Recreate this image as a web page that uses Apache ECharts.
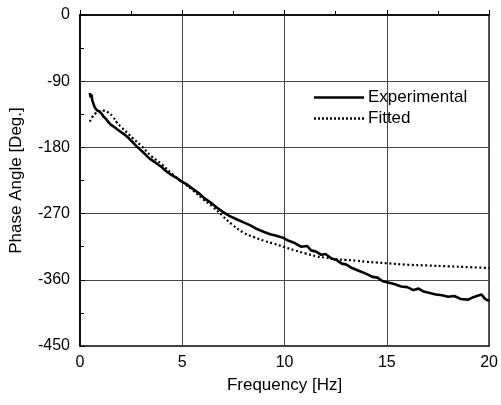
<!DOCTYPE html>
<html><head><meta charset="utf-8">
<script src="https://cdn.jsdelivr.net/npm/echarts@6/dist/echarts.min.js"></script>
<style>html,body{margin:0;padding:0;background:#fff}#c{width:501px;height:405px}</style>
</head><body><div id="c"></div>
<script>
const xTicks = [0, 5, 10, 15, 20];
const yTicks = [0, -90, -180, -270, -360, -450];
const expFreq = [0.48,0.52,0.56,0.6,0.65,0.7,0.75,0.85,0.95,1.05,1.15,1.29,1.4,1.5,1.61,1.8,2.0,2.2,2.4,2.58,2.75,2.9,3.1,3.39,3.6,3.8,4.0,4.2,4.45,4.7,4.94,5.2,5.5,5.8,6.07,6.39,6.7,7.0,7.3,7.68,8.0,8.33,8.65,9.0,9.3,9.6,9.94,10.2,10.5,10.8,11.1,11.3,11.56,11.8,12.0,12.3,12.53,12.8,13.0,13.3,13.66,14.0,14.3,14.54,14.8,15.11,15.4,15.7,16.0,16.3,16.56,16.8,17.1,17.4,17.7,18.0,18.3,18.6,18.98,19.2,19.4,19.63,19.8,20.0];
const expPhase = [-106,-112,-108,-116,-120,-124,-127,-130,-131,-134,-138,-142,-146,-149,-151,-155,-159,-163,-168,-173,-178,-182,-187,-195,-199,-203,-207,-212,-217,-221,-226,-230,-236,-242,-249,-255,-262,-268,-273,-278,-282,-286,-291,-295,-298,-300,-303,-307,-310,-315,-314,-320,-322,-326,-325,-331,-333,-338,-339,-344,-348,-352,-356,-357,-362,-364,-366,-369,-370,-374,-372,-376,-378,-380,-381,-383,-382,-386,-387,-384,-382,-380,-386,-389];
const fitFreq = [0.48,0.6,0.75,0.95,1.2,1.4,1.6,1.8,2.0,2.3,2.6,3.0,3.5,4.0,4.5,5.0,5.5,6.0,6.5,7.0,7.44,8.0,8.5,9.0,9.5,9.94,10.5,11.0,11.56,12.0,12.5,13.0,13.5,14.0,14.5,15.0,16.0,17.0,18.0,19.0,20.0];
const fitPhase = [-145,-139,-134,-131,-130,-133,-138,-146,-152,-160,-168,-178,-192,-203,-216,-227,-238,-250,-261,-274,-285,-296,-302,-307,-311,-315,-320,-324,-328,-330,-332,-333,-334,-335.5,-336.5,-337.5,-339.5,-340.5,-341.7,-342.8,-344];

const FONT = '"Liberation Sans", Arial, Helvetica, sans-serif';
let dots = '';
for (let k = 0; k < 13; k++) dots += 'M' + (k * 4) + ',0h2v2.5h-2z';
const chart = echarts.init(document.getElementById('c'), null, {renderer: 'canvas'});
chart.setOption({
  animation: false,
  backgroundColor: '#fff',
  textStyle: {fontFamily: FONT, color: '#000'},
  grid: {left: 78, right: 10, top: 15, bottom: 59, show: true, borderColor: '#000', borderWidth: 1.5, backgroundColor: 'transparent'},
  legend: {
    orient: 'vertical', left: 309, top: 84, itemWidth: 50, itemHeight: 14, itemGap: 4,
    textStyle: {fontFamily: FONT, fontSize: 17, color: '#000', padding: [0,0,0,-1]},
    data: [{name: 'Experimental', icon: 'path://M0,0 L52,0 L52,2.5 L0,2.5 Z', itemStyle:{color:'#000'}},
           {name: 'Fitted', icon: 'path://' + dots, itemStyle:{color:'#000'}}]
  },
  xAxis: {
    type: 'value', min: 0, max: 20, interval: 5,
    name: 'Frequency [Hz]', nameLocation: 'middle', nameGap: 31,
    nameTextStyle: {fontFamily: FONT, fontSize: 17, color: '#000'},
    axisLine: {show: true, lineStyle: {color: '#000', width: 1.5}},
    axisTick: {show: true, inside: true, length: 5, lineStyle: {color: '#000'}},
    minorTick: {show: true, splitNumber: 2, length: 4, lineStyle: {color: '#000'}},
    axisLabel: {fontFamily: FONT, fontSize: 16, color: '#000', margin: 9, formatter: v => xTicks.includes(v) ? String(v) : ''},
    splitLine: {show: true, lineStyle: {color: '#444', width: 1}}
  },
  yAxis: {
    type: 'value', min: -450, max: 0, interval: 90,
    name: 'Phase Angle [Deg.]', nameLocation: 'middle', nameGap: 55, nameRotate: 90,
    nameTextStyle: {fontFamily: FONT, fontSize: 17, color: '#000'},
    axisLine: {show: true, lineStyle: {color: '#000', width: 1.5}},
    axisTick: {show: true, inside: true, length: 5, lineStyle: {color: '#000'}},
    minorTick: {show: true, splitNumber: 2, length: 4, lineStyle: {color: '#000'}},
    axisLabel: {fontFamily: FONT, fontSize: 16, color: '#000', margin: 10, formatter: v => yTicks.includes(v) ? String(v) : ''},
    splitLine: {show: true, lineStyle: {color: '#444', width: 1}}
  },
  series: [
    {name: 'Experimental', type: 'line', symbol: 'none', smooth: false,
     lineStyle: {color: '#000', width: 2.6}, itemStyle: {color: '#000'},
     data: expFreq.map((f, i) => [f, expPhase[i]])},
    {name: 'Fitted', type: 'line', symbol: 'none', smooth: true,
     lineStyle: {color: '#000', width: 2.2, type: [2, 2.5], cap: 'butt'}, itemStyle: {color: '#000'},
     data: fitFreq.map((f, i) => [f, fitPhase[i]])}
  ]
});
</script></body></html>
